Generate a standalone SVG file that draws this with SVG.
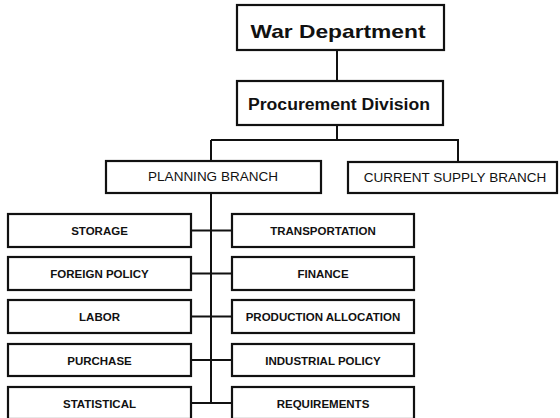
<svg xmlns="http://www.w3.org/2000/svg" width="560" height="418" viewBox="0 0 560 418">
<style>
rect{fill:#fff;stroke:#111;stroke-width:2.2}
.c path{fill:none;stroke:#111;stroke-width:2}
text{font-family:"Liberation Sans",Arial,sans-serif;fill:#111;text-anchor:middle}
.h{font-weight:bold;font-size:19px}
.h2{font-weight:bold;font-size:16px}
.b{font-size:13.5px}
.s{font-weight:bold;font-size:11.5px}
</style>
<rect x="0" y="0" width="560" height="418" style="stroke:none"/>
<g class="c">
<path d="M337 50V81M337 125V140M211 140H458V162M211 140V161M211 193V403"/>
<path d="M191 230.5H232M191 273.5H232M191 316.5H232M191 360H232M191 403H232"/>
</g>
<g id="war"><rect x="237" y="5" width="207" height="45"/><text class="h" x="338" y="38" textLength="175" lengthAdjust="spacingAndGlyphs">War Department</text></g>
<g id="proc"><rect x="237" y="81" width="206" height="44"/><text class="h2" x="339" y="110" textLength="182" lengthAdjust="spacingAndGlyphs">Procurement Division</text></g>
<g id="planning"><rect x="106" y="161" width="215" height="32"/><text class="b" x="213" y="181">PLANNING BRANCH</text></g>
<g id="current"><rect x="348" y="162" width="209" height="31"/><text class="b" x="455" y="182">CURRENT SUPPLY BRANCH</text></g>
<g id="storage"><rect x="8" y="214" width="183" height="33"/><text class="s" x="99.5" y="235">STORAGE</text></g>
<g id="foreign"><rect x="8" y="257" width="183" height="33"/><text class="s" x="99.5" y="278">FOREIGN POLICY</text></g>
<g id="labor"><rect x="8" y="300" width="183" height="33"/><text class="s" x="99.5" y="321">LABOR</text></g>
<g id="purchase"><rect x="8" y="344" width="183" height="32"/><text class="s" x="99.5" y="364.5">PURCHASE</text></g>
<g id="statistical"><rect x="8" y="387" width="183" height="32"/><text class="s" x="99.5" y="407.5">STATISTICAL</text></g>
<g id="transportation"><rect x="232" y="214" width="182" height="33"/><text class="s" x="323" y="235">TRANSPORTATION</text></g>
<g id="finance"><rect x="232" y="257" width="182" height="33"/><text class="s" x="323" y="278">FINANCE</text></g>
<g id="production"><rect x="232" y="300" width="182" height="33"/><text class="s" x="323" y="321">PRODUCTION ALLOCATION</text></g>
<g id="industrial"><rect x="232" y="344" width="182" height="32"/><text class="s" x="323" y="364.5">INDUSTRIAL POLICY</text></g>
<g id="requirements"><rect x="232" y="387" width="182" height="32"/><text class="s" x="323" y="407.5">REQUIREMENTS</text></g>
</svg>
